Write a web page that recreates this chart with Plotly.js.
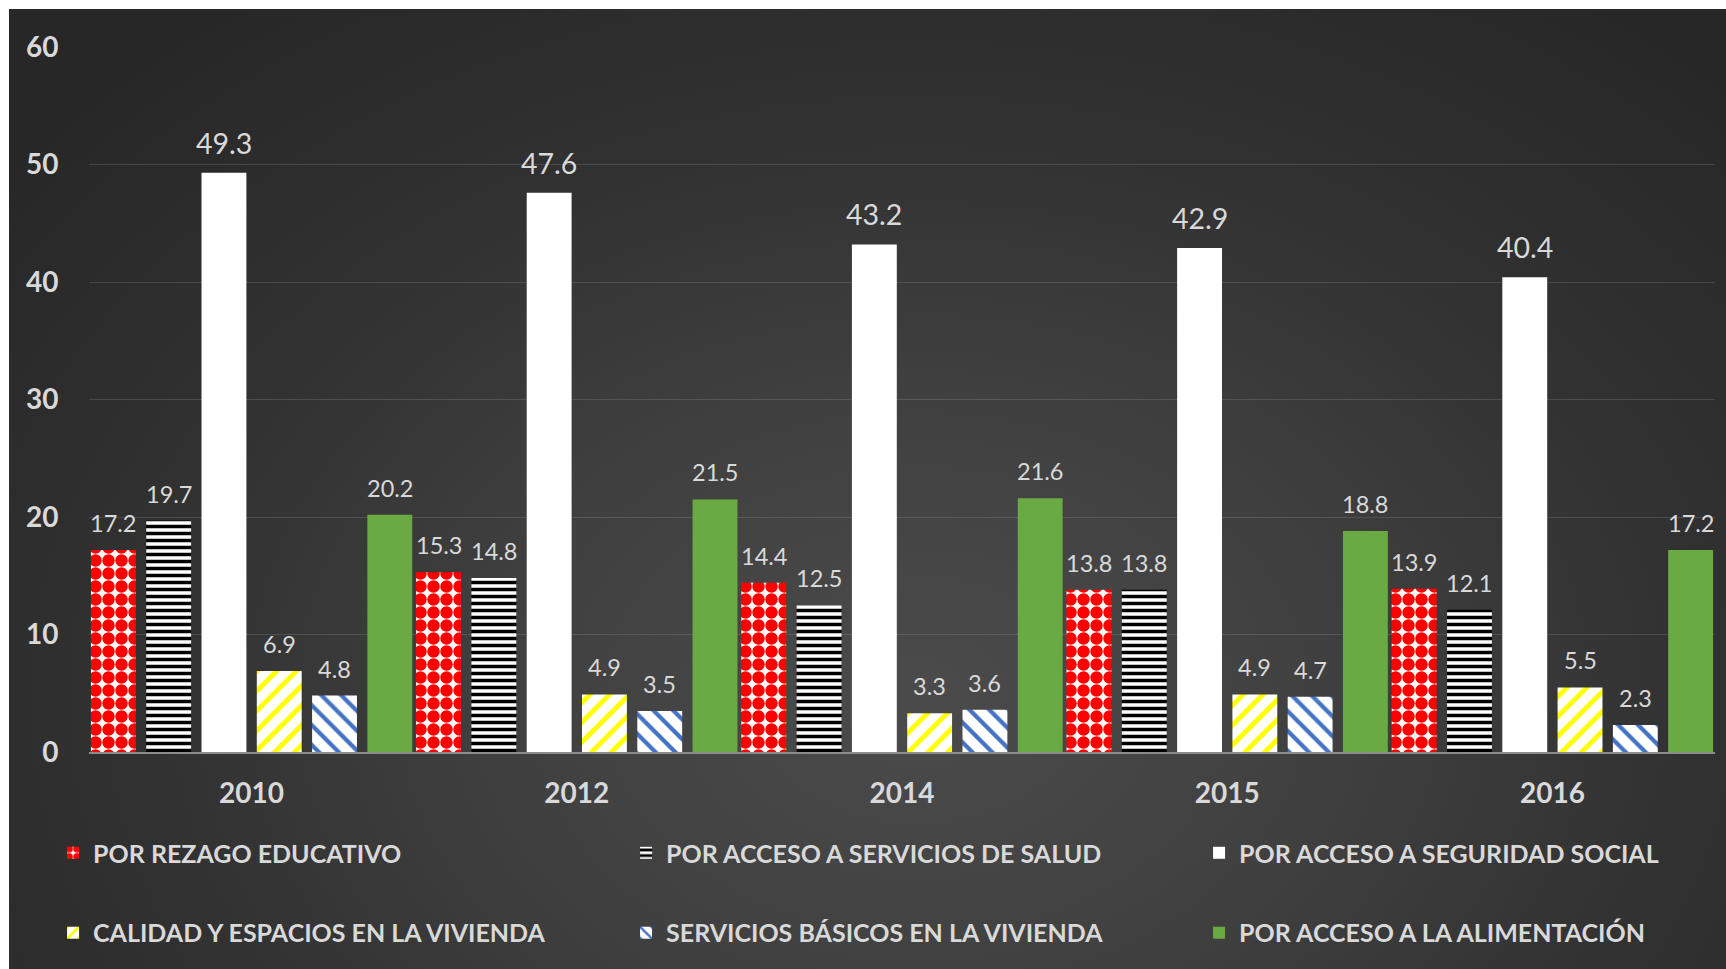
<!DOCTYPE html>
<html>
<head>
<meta charset="utf-8">
<script src="https://cdn.plot.ly/plotly-3.0.1.min.js"></script>
<style>
  html, body { margin: 0; padding: 0; background: #ffffff; width: 1726px; height: 969px; overflow: hidden; }
  #bg { position: absolute; left: 9px; top: 9px; width: 1717px; height: 960px;
        background: radial-gradient(ellipse 68% 90% at 53% 72%, #4b4b4b 0%, #404040 35%, #323232 65%, #272727 100%); }
  #chart { position: absolute; left: 0; top: 0; width: 1726px; height: 969px; }
</style>
</head>
<body>
<div id="bg"></div>
<div id="chart"></div>
<script>
// ---- data ----
const categories = ['2010', '2012', '2014', '2015', '2016'];
const seriesNames = [
  'POR REZAGO EDUCATIVO',
  'POR ACCESO A SERVICIOS DE SALUD',
  'POR ACCESO A SEGURIDAD SOCIAL',
  'CALIDAD Y ESPACIOS EN LA VIVIENDA',
  'SERVICIOS BÁSICOS EN LA VIVIENDA',
  'POR ACCESO A LA ALIMENTACIÓN'
];
const rezagoEducativo = [17.2, 15.3, 14.4, 13.8, 13.9];
const serviciosSalud = [19.7, 14.8, 12.5, 13.8, 12.1];
const seguridadSocial = [49.3, 47.6, 43.2, 42.9, 40.4];
const calidadVivienda = [6.9, 4.9, 3.3, 4.9, 5.5];
const serviciosBasicos = [4.8, 3.5, 3.6, 4.7, 2.3];
const alimentacion = [20.2, 21.5, 21.6, 18.8, 17.2];
const yTicks = [0, 10, 20, 30, 40, 50, 60];

const seriesValues = [rezagoEducativo, serviciosSalud, seguridadSocial, calidadVivienda, serviciosBasicos, alimentacion];

// ---- styles ----
const barWidth = 0.138;
const barPitch = 0.170;
const firstOffset = -0.494;
const markers = [
  { color: '#ff0000', pattern: { shape: '.', bgcolor: '#ffffff', fgcolor: '#ff0000', fgopacity: 1, size: 13, solidity: 0.72, fillmode: 'overlay' } },
  { color: '#000000', pattern: { shape: '-', bgcolor: '#ffffff', fgcolor: '#000000', fgopacity: 1, size: 7, solidity: 0.5, fillmode: 'overlay' } },
  { color: '#ffffff' },
  { color: '#ffff00', pattern: { shape: '/', bgcolor: '#ffffff', fgcolor: '#ffff00', fgopacity: 1, size: 14, solidity: 0.35, fillmode: 'overlay' } },
  { color: '#4472c4', pattern: { shape: '\\', bgcolor: '#ffffff', fgcolor: '#4472c4', fgopacity: 1, size: 14, solidity: 0.3, fillmode: 'overlay' } },
  { color: '#6aaa42' }
];
const labelColor = '#d9d9d9';
const fontFamily = 'Lato, "Open Sans", sans-serif';
// legend placement (paper coords): 3 columns x 2 rows
const legendX = [-0.0221, 0.3303, 0.6827];
const legendY = [-0.1433, -0.2567];
const legendKeys = ['legend', 'legend2', 'legend3', 'legend4', 'legend5', 'legend6'];

const traces = seriesValues.map((vals, i) => ({
  type: 'bar',
  name: seriesNames[i],
  x: categories,
  y: vals,
  width: barWidth,
  offset: firstOffset + i * barPitch,
  marker: Object.assign({ line: { width: 0 } }, markers[i]),
  legend: legendKeys[i],
  hoverinfo: 'x+y+name'
}));

const annotations = [];
seriesValues.forEach((vals, i) => {
  vals.forEach((v, j) => {
    annotations.push({
      x: j + firstOffset + i * barPitch + barWidth / 2,
      y: v,
      xref: 'x', yref: 'y',
      text: v.toFixed(1),
      showarrow: false,
      xanchor: 'center', yanchor: 'bottom',
      yshift: 11,
      font: { family: fontFamily, size: i === 2 ? 28.5 : 23.5, color: labelColor }
    });
  });
});

const layout = {
  width: 1726,
  height: 969,
  margin: { l: 89, r: 11, t: 47, b: 217 },
  paper_bgcolor: 'rgba(0,0,0,0)',
  plot_bgcolor: 'rgba(0,0,0,0)',
  barmode: 'overlay',
  showlegend: true,
  xaxis: {
    type: 'category',
    range: [-0.5, 4.5],
    showgrid: false,
    showline: true,
    linecolor: '#8c8c8c',
    linewidth: 2,
    ticks: 'outside',
    ticklen: 15,
    tickcolor: 'rgba(0,0,0,0)',
    tickfont: { family: fontFamily, size: 28, color: labelColor, weight: 'bold' },
    fixedrange: true
  },
  yaxis: {
    range: [0, 60],
    tickvals: yTicks,
    showgrid: true,
    gridcolor: 'rgba(255,255,255,0.12)',
    gridwidth: 1,
    zeroline: false,
    showline: false,
    ticks: 'outside',
    ticklen: 24,
    tickcolor: 'rgba(0,0,0,0)',
    tickfont: { family: fontFamily, size: 28, color: labelColor, weight: 'bold' },
    fixedrange: true
  },
  annotations: annotations
};

legendKeys.forEach((key, i) => {
  layout[key] = {
    orientation: 'h',
    xanchor: 'left',
    yanchor: 'middle',
    x: legendX[i % 3],
    y: legendY[Math.floor(i / 3)],
    bgcolor: 'rgba(0,0,0,0)',
    font: { family: fontFamily, size: 25, color: labelColor, weight: 'bold' }
  };
});

Plotly.newPlot('chart', traces, layout, { displayModeBar: false, staticPlot: true });
</script>
</body>
</html>
